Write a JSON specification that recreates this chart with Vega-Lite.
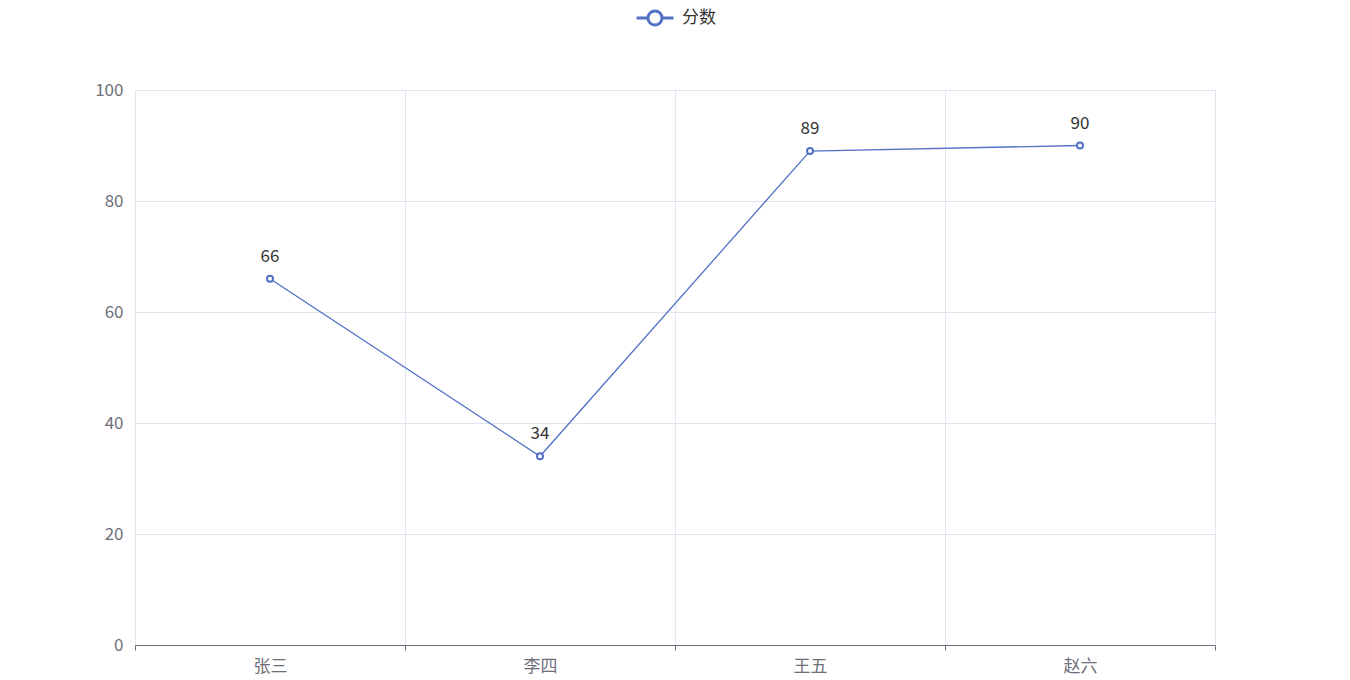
{
  "$schema": "https://vega.github.io/schema/vega-lite/v6.json",
  "width": 1080,
  "height": 555,
  "autosize": {"type": "none"},
  "padding": {"left": 135, "top": 90, "right": 135, "bottom": 35},
  "background": "white",
  "config": {
    "view": {"stroke": null},
    "font": "Noto Sans CJK SC"
  },
  "data": {
    "values": [
      {"name": "张三", "score": 66, "series": "分数"},
      {"name": "李四", "score": 34, "series": "分数"},
      {"name": "王五", "score": 89, "series": "分数"},
      {"name": "赵六", "score": 90, "series": "分数"}
    ]
  },
  "encoding": {
    "x": {
      "field": "name", "type": "nominal", "sort": null,
      "scale": {"type": "band", "paddingInner": 0, "paddingOuter": 0},
      "axis": {
        "title": null, "labelAngle": 0, "tickBand": "extent",
        "domainColor": "#6e7079", "tickColor": "#6e7079", "tickSize": 5,
        "grid": true, "gridColor": "#e0e6f1",
        "labelColor": "#6e7079", "labelFontSize": 17, "labelPadding": 8,
        "labelFont": "Noto Sans CJK SC"
      }
    },
    "y": {
      "field": "score", "type": "quantitative",
      "scale": {"domain": [0, 100], "nice": false},
      "axis": {
        "title": null, "values": [0, 20, 40, 60, 80, 100],
        "domain": false, "ticks": false,
        "gridColor": "#e0e6f1",
        "labelColor": "#6e7079", "labelFontSize": 17, "labelPadding": 12,
        "labelFont": "Noto Sans CJK SC"
      }
    }
  },
  "layer": [
    {
      "mark": {"type": "line", "color": "#5470c6", "strokeWidth": 1.3},
      "encoding": {}
    },
    {
      "mark": {"type": "point", "shape": "circle", "filled": false, "fill": "white", "fillOpacity": 1, "strokeWidth": 2, "size": 36, "opacity": 1},
      "encoding": {
        "stroke": {
          "field": "series", "type": "nominal",
          "scale": {"range": ["#5470c6"]},
          "legend": {
            "title": null, "orient": "none", "legendX": 500, "legendY": -92,
            "symbolType": "M-1,0H-0.38M0.38,0H1M0.38,0A0.38,0.38 0 1,1 -0.38,0A0.38,0.38 0 1,1 0.38,0Z",
            "symbolSize": 1369, "symbolStrokeWidth": 3, "symbolFillColor": "white",
            "labelFontSize": 17, "labelColor": "#333333", "labelFont": "Noto Sans CJK SC",
            "labelOffset": 7
          }
        }
      }
    },
    {
      "mark": {"type": "text", "baseline": "bottom", "dy": -13, "fontSize": 17, "color": "#333333", "font": "Noto Sans CJK SC"},
      "encoding": {"text": {"field": "score", "type": "quantitative"}}
    }
  ]
}
